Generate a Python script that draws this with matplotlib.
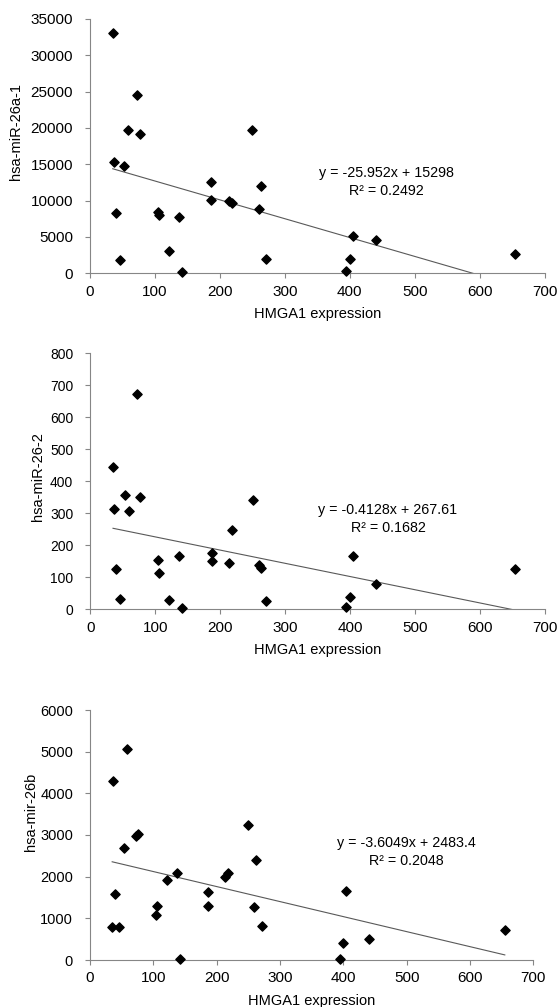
import matplotlib
matplotlib.use("Agg")
import matplotlib.pyplot as plt
import numpy as np

plt.rcParams['font.family'] = ['Liberation Sans', 'DejaVu Sans']
plt.rcParams['font.size'] = 10

# HMGA1 expression (shared x for all three panels)
hmga1 = [35, 37, 39.5, 46, 53, 59, 72.5, 76.5, 105, 106.5, 122, 137, 141.5,
         187, 187, 213.5, 218, 250, 259.5, 262.5, 271, 394, 400, 405, 440.5, 655]

mir26a1 = [33100, 15250, 8250, 1830, 14780, 19700, 24600, 19200, 8400, 8000,
           3100, 7800, 150, 12600, 10050, 9950, 9700, 19700, 8800, 12050,
           1900, 250, 1900, 5100, 4600, 2650]

mir26_2 = [446, 312, 125, 31, 357, 306, 672, 351, 155, 113,
           29, 166, 3, 175, 151, 144, 247, 341, 137, 130,
           27, 8, 38, 166, 79, 125]

mir26b = [800, 4300, 1580, 800, 2690, 5060, 2980, 3020, 1080, 1290,
          1910, 2100, 15, 1640, 1290, 1990, 2090, 3240, 1270, 2390,
          820, 30, 420, 1660, 500, 720]

W, H = 558, 1007

# box = (left, right, bottom, top) of each plot area in pixels
panels = [
    dict(y=mir26a1, ylabel='hsa-miR-26a-1', ymax=35000, ystep=5000,
         slope=-25.952, icpt=15298, eq='y = -25.952x + 15298', r2='R² = 0.2492',
         box=(90, 544.7, 273.3, 19), txt=(386, 173), ylc=(16, 131), yts=11),
    dict(y=mir26_2, ylabel='hsa-miR-26-2', ymax=800, ystep=100,
         slope=-0.4128, icpt=267.61, eq='y = -0.4128x + 267.61', r2='R² = 0.1682',
         box=(90.3, 544.7, 609.3, 353.3), txt=(388, 510), ylc=(38, 477), yts=10),
    dict(y=mir26b, ylabel='hsa-mir-26b', ymax=6000, ystep=1000,
         slope=-3.6049, icpt=2483.4, eq='y = -3.6049x + 2483.4', r2='R² = 0.2048',
         box=(90, 533.3, 960, 710), txt=(406, 843), ylc=(30.7, 812), yts=10.5),
]

fig = plt.figure(figsize=(W / 100, H / 100), dpi=100)

for p in panels:
    x0, x1, yb, yt = p['box']
    ax = fig.add_axes([x0 / W, 1 - yb / H, (x1 - x0) / W, (yb - yt) / H])
    ax.scatter(hmga1, p['y'], marker='D', s=22, color='black', zorder=3, clip_on=False)
    # Excel-style linear trendline from min x to max x
    xs = np.array([min(hmga1), max(hmga1)])
    ys = p['slope'] * xs + p['icpt']
    ax.plot(xs, ys, color='#595959', lw=0.8, zorder=2)
    ax.set_xlim(0, 700)
    ax.set_ylim(0, p['ymax'])
    ax.set_xticks(np.arange(0, 701, 100))
    ax.set_yticks(np.arange(0, p['ymax'] + 1, p['ystep']))
    for s in ['top', 'right']:
        ax.spines[s].set_visible(False)
    for s in ['left', 'bottom']:
        ax.spines[s].set_color('#868686')
        ax.spines[s].set_linewidth(0.8)
    ax.tick_params(direction='out', length=3.6, width=0.8, color='#868686')
    ax.tick_params(axis='x', pad=4.5, labelsize=11)
    ax.tick_params(axis='y', pad=8.6, labelsize=p['yts'])

    ax.set_xlabel('HMGA1 expression', fontsize=10.5, va='center')
    ax.xaxis.set_label_coords(0.5, -41 / (yb - yt))
    ax.set_ylabel(p['ylabel'], fontsize=10.5, va='center')
    lx, ly = p['ylc']
    ax.yaxis.set_label_coords((lx - x0) / (x1 - x0), (yb - ly) / (yb - yt))

    tx, ty = p['txt']
    fig.text(tx / W, 1 - ty / H, p['eq'], ha='center', va='center', fontsize=10.3)
    fig.text(tx / W, 1 - (ty + 18) / H, p['r2'], ha='center', va='center', fontsize=10.3)

fig.savefig('out.png', dpi=100)
